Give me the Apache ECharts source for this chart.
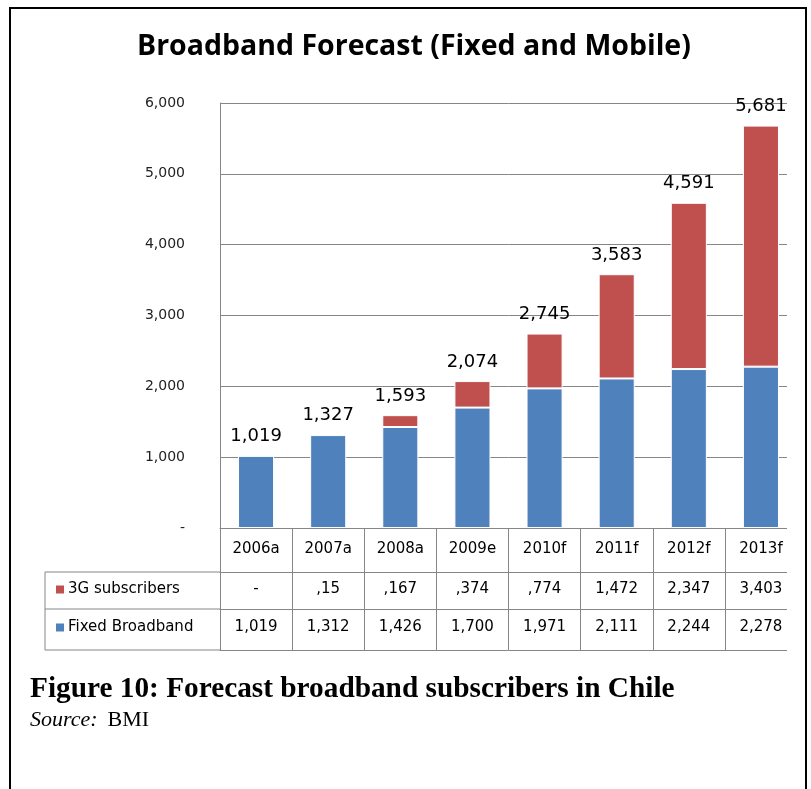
<!DOCTYPE html>
<html>
<head>
<meta charset="utf-8">
<script src="https://cdn.jsdelivr.net/npm/echarts@6/dist/echarts.min.js"></script>
<style>
html,body{margin:0;padding:0;background:#fff;}
#chart{width:811px;height:789px;}
</style>
</head>
<body>
<div id="chart"></div>
<script>
var categories = ['2006a','2007a','2008a','2009e','2010f','2011f','2012f','2013f'];
var fixedBroadband = [1019, 1312, 1426, 1700, 1971, 2111, 2244, 2278];
var subscribers3G = [0, 15, 167, 374, 774, 1472, 2347, 3403];
var totals = [1019, 1327, 1593, 2074, 2745, 3583, 4591, 5681];
var totalLabels = ['1,019','1,327','1,593','2,074','2,745','3,583','4,591','5,681'];
var table3GLabels = ['-', ',15', ',167', ',374', ',774', '1,472', '2,347', '3,403'];
var tableFixedLabels = ['1,019','1,312','1,426','1,700','1,971','2,111','2,244','2,278'];
var yTickLabels = ['-','1,000','2,000','3,000','4,000','5,000','6,000'];

var BLUE = '#4F81BD', RED = '#C0504D', GRAY = '#868686';
var FONT = 'DejaVu Sans';

var chart = echarts.init(document.getElementById('chart'));
function idxOf(v){ return categories.indexOf(v); }

var option = {
  backgroundColor: '#fff',
  animation: false,
  title: [
    { text: 'Broadband Forecast (Fixed and Mobile)', left: 132, top: 27,
      textStyle: { fontFamily: 'Open Sans', fontWeight: 'bold', fontSize: 28.5, color: '#000' } },
    { text: 'Figure 10: Forecast broadband subscribers in Chile', left: 25, top: 670,
      textStyle: { fontFamily: 'Liberation Serif', fontWeight: 'bold', fontSize: 29.3, color: '#000' } },
    { text: '{i|Source:}  {n|BMI}', left: 25, top: 704,
      textStyle: { fontWeight: 'normal', rich: {
        i: { fontFamily: 'Liberation Serif', fontStyle: 'italic', fontWeight: 'normal', fontSize: 22, color: '#000' },
        n: { fontFamily: 'Liberation Serif', fontWeight: 'normal', fontSize: 22, color: '#000' } } } }
  ],
  legend: {
    data: ['3G subscribers', 'Fixed Broadband'],
    orient: 'vertical', left: 54, top: 582, padding: 0,
    itemWidth: 10, itemHeight: 10, itemGap: 23,
    icon: 'rect',
    textStyle: { fontFamily: FONT, fontSize: 15, color: '#000', padding: [0,0,0,-2] }
  },
  grid: { left: 220, top: 103, width: 577, height: 425, containLabel: false },
  xAxis: [
    { type: 'category', data: categories, position: 'bottom',
      axisLine: { lineStyle: { color: GRAY, width: 1 } },
      axisTick: { show: true, interval: 0, length: 122, lineStyle: { color: GRAY } },
      axisLabel: { interval: 0, margin: 14, fontFamily: FONT, fontSize: 15, color: '#000' } },
    { type: 'category', data: categories, position: 'bottom', offset: 44,
      axisLine: { lineStyle: { color: GRAY } }, axisTick: { show: false },
      axisLabel: { interval: 0, margin: 10, fontFamily: FONT, fontSize: 15, color: '#000',
        formatter: function(v){ return table3GLabels[idxOf(v)]; } } },
    { type: 'category', data: categories, position: 'bottom', offset: 81,
      axisLine: { lineStyle: { color: GRAY } }, axisTick: { show: false },
      axisLabel: { interval: 0, margin: 11, fontFamily: FONT, fontSize: 15, color: '#000',
        formatter: function(v){ return tableFixedLabels[idxOf(v)]; } } },
    { type: 'category', data: categories, position: 'bottom', offset: 122,
      axisLine: { lineStyle: { color: GRAY } }, axisTick: { show: false },
      axisLabel: { show: false } }
  ],
  yAxis: {
    type: 'value', min: 0, max: 6000, interval: 1000,
    axisLine: { show: true, lineStyle: { color: GRAY } },
    axisTick: { show: false },
    splitLine: { lineStyle: { color: GRAY, width: 1 } },
    axisLabel: { margin: 35, fontFamily: FONT, fontSize: 14, color: '#222',
      formatter: function(v){ return yTickLabels[Math.round(v/1000)]; } }
  },
  series: [
    { name: 'Fixed Broadband', type: 'bar', stack: 'total', data: fixedBroadband,
      barWidth: '50%', itemStyle: { color: BLUE, borderColor: '#fff', borderWidth: 1 } },
    { name: '3G subscribers', type: 'bar', stack: 'total', data: subscribers3G,
      barWidth: '50%', itemStyle: { color: RED, borderColor: '#fff', borderWidth: 1 },
      label: { show: true, position: 'top', distance: 10, fontFamily: FONT, fontSize: 18, color: '#000',
        formatter: function(p){ return totalLabels[p.dataIndex]; } } }
  ],
  graphic: [
    { type: 'line', shape: { x1: 45, y1: 572, x2: 220, y2: 572 }, style: { stroke: GRAY, lineWidth: 1 } },
    { type: 'line', shape: { x1: 45, y1: 609, x2: 220, y2: 609 }, style: { stroke: GRAY, lineWidth: 1 } },
    { type: 'line', shape: { x1: 45, y1: 650, x2: 220, y2: 650 }, style: { stroke: GRAY, lineWidth: 1 } },
    { type: 'line', shape: { x1: 45, y1: 572, x2: 45, y2: 650 }, style: { stroke: GRAY, lineWidth: 1 } },
    { type: 'rect', z: 100, shape: { x: 787, y: 0, width: 24, height: 789 }, style: { fill: '#fff' } },
    { type: 'rect', z: 101, shape: { x: 10, y: 8, width: 796, height: 820 },
      style: { fill: 'none', stroke: '#000', lineWidth: 2 } }
  ]
};
chart.setOption(option);
</script>
</body>
</html>
